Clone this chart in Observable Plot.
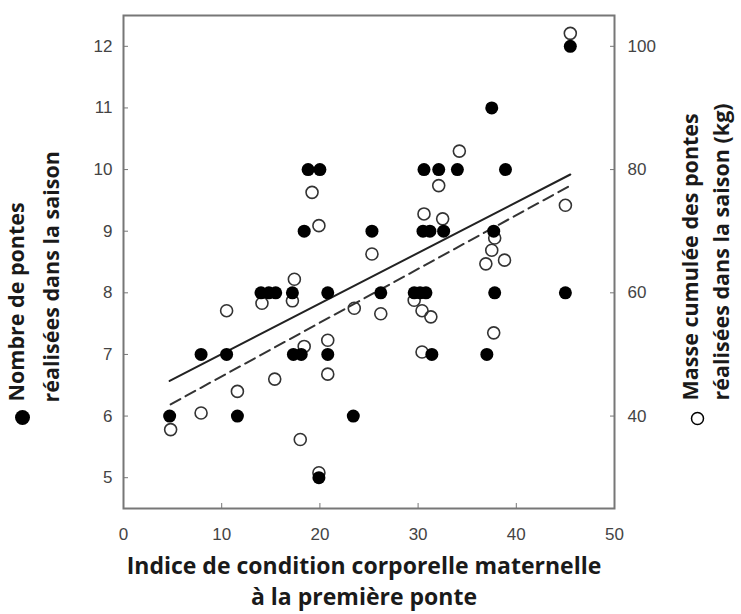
<!DOCTYPE html>
<html>
<head>
<meta charset="utf-8">
<script src="https://cdn.jsdelivr.net/npm/d3@7"></script>
<script src="https://cdn.jsdelivr.net/npm/@observablehq/plot@0.6"></script>
<style>
  html, body { margin: 0; padding: 0; background: #fff; }
</style>
</head>
<body>
<div id="chart"></div>
<script>
// ---- Data ----
// Filled circles: number of clutches in the season
const countX = [4.7, 7.9, 10.5, 11.6, 14.0, 14.8, 15.5, 17.2, 20.8, 17.3, 18.1, 20.8, 19.9, 23.4,
                18.4, 25.3, 30.5, 31.2, 32.6, 37.7,
                18.8, 20.0, 30.6, 32.1, 34.0, 38.9,
                37.5, 45.5,
                26.2, 29.6, 30.2, 30.8, 37.8, 45.0,
                31.4, 37.0];
const countY = [6, 7, 7, 6, 8, 8, 8, 8, 8, 7, 7, 7, 5, 6,
                9, 9, 9, 9, 9, 9,
                10, 10, 10, 10, 10, 10,
                11, 12,
                8, 8, 8, 8, 8, 8,
                7, 7];
// Open circles: cumulated mass of clutches in the season (kg)
const massX = [45.5, 34.2, 32.1, 45.0, 30.6, 32.5, 37.8, 37.5, 25.3, 36.9, 38.8,
               19.2, 19.9, 17.4, 14.1, 17.2, 10.5, 23.5, 26.2, 29.6, 30.4, 31.3,
               37.7, 30.4, 18.4, 20.8, 20.8, 15.4, 11.6, 7.9, 4.8, 18.0, 19.9];
const massY = [102.1, 83.0, 77.4, 74.2, 72.8, 72.0, 68.9, 66.9, 66.3, 64.7, 65.3,
               76.3, 70.9, 62.2, 58.3, 58.7, 57.1, 57.5, 56.6, 58.8, 57.1, 56.1,
               53.5, 50.4, 51.3, 52.3, 46.8, 46.0, 44.0, 40.5, 37.8, 36.2, 30.8];
// Regression lines (end points)
const fitCountX = [4.7, 45.5];
const fitCountY = [6.57, 9.92];
const fitMassX = [4.8, 45.5];
const fitMassY = [41.9, 77.4];
// Axis ticks
const xTicks = [0, 10, 20, 30, 40, 50];
const countTicks = [5, 6, 7, 8, 9, 10, 11, 12];
const massTicks = [40, 60, 80, 100];
// Titles
const xTitle = ["Indice de condition corporelle maternelle", "à la première ponte"];
const leftTitle = ["Nombre de pontes", "réalisées dans la saison"];
const rightTitle = ["Masse cumulée des pontes", "réalisées dans la saison (kg)"];

// right axis relation: 40 kg <-> 6, 100 kg <-> 12
const massToCount = m => (m + 20) / 10;
const countToMass = c => String(Math.round(c * 10 - 20));

const filled = countX.map((x, i) => ({x, y: countY[i]}));
const open = massX.map((x, i) => ({x, y: massToCount(massY[i])}));
const fitC = fitCountX.map((x, i) => ({x, y: fitCountY[i]}));
const fitM = fitMassX.map((x, i) => ({x, y: massToCount(fitMassY[i])}));

const yTitleFont = {fontFamily: "Open Sans", fontWeight: 700, fontSize: 21.5, fill: "#1a1a1a"};
const xTitleFont = {fontFamily: "Open Sans", fontWeight: 700, fontSize: 23, fill: "#1a1a1a"};

const chart = Plot.plot({
  width: 741,
  height: 614,
  marginLeft: 123,
  marginRight: 127,
  marginTop: 15,
  marginBottom: 106,
  style: {fontFamily: "Liberation Sans, Arial, sans-serif", background: "#fff"},
  x: {domain: [0, 50], axis: null},
  y: {domain: [4.5, 12.5], axis: null},
  marks: [
    // inward ticks
    Plot.axisX(xTicks.slice(1, -1), {anchor: "bottom", tickSize: -5, tickFormat: () => "", stroke: "#777", label: null}),
    Plot.axisY(countTicks, {anchor: "left", tickSize: -5, tickFormat: () => "", stroke: "#777", label: null}),
    Plot.axisY(massTicks.map(massToCount), {anchor: "right", tickSize: -5, tickFormat: () => "", stroke: "#777", label: null}),
    // tick labels
    Plot.axisX(xTicks, {anchor: "bottom", tickSize: 0, tickPadding: 19, fontSize: 17, color: "#444", label: null, tickFormat: d => String(d)}),
    Plot.axisY(countTicks, {anchor: "left", tickSize: 0, tickPadding: 11, fontSize: 17, color: "#444", label: null, tickFormat: d => String(d)}),
    Plot.axisY(massTicks.map(massToCount), {anchor: "right", tickSize: 0, tickPadding: 13, fontSize: 17, color: "#444", label: null, tickFormat: countToMass}),
    Plot.frame({stroke: "#777", strokeWidth: 2}),
    // regression lines
    Plot.line(fitC, {x: "x", y: "y", stroke: "#222", strokeWidth: 2}),
    Plot.line(fitM, {x: "x", y: "y", stroke: "#333", strokeWidth: 2, strokeDasharray: "11,6"}),
    // points
    Plot.dot(open, {x: "x", y: "y", r: 6, stroke: "#333", strokeWidth: 1.6, fill: "none"}),
    Plot.dot(filled, {x: "x", y: "y", r: 6.5, fill: "#000", stroke: "none"}),
    // axis titles
    Plot.text([xTitle[0]], {frameAnchor: "bottom", dx: -5, dy: 65, ...xTitleFont}),
    Plot.text([xTitle[1]], {frameAnchor: "bottom", dx: -5, dy: 96, ...xTitleFont}),
    Plot.text([leftTitle[0]], {frameAnchor: "bottom-left", dx: -100, dy: -107, rotate: -90, textAnchor: "start", ...yTitleFont}),
    Plot.text([leftTitle[1]], {frameAnchor: "bottom-left", dx: -65, dy: -106, rotate: -90, textAnchor: "start", ...yTitleFont}),
    Plot.dot([0], {frameAnchor: "bottom-left", dx: -101, dy: -91, r: 7.5, fill: "#000", stroke: "none"}),
    Plot.text([rightTitle[0]], {frameAnchor: "bottom-right", dx: 83, dy: -108, rotate: -90, textAnchor: "start", ...yTitleFont}),
    Plot.text([rightTitle[1]], {frameAnchor: "bottom-right", dx: 114, dy: -108, rotate: -90, textAnchor: "start", ...yTitleFont}),
    Plot.dot([0], {frameAnchor: "bottom-right", dx: 83, dy: -90, r: 6, fill: "none", stroke: "#000", strokeWidth: 1.5})
  ]
});
document.getElementById("chart").appendChild(chart);
</script>
</body>
</html>
